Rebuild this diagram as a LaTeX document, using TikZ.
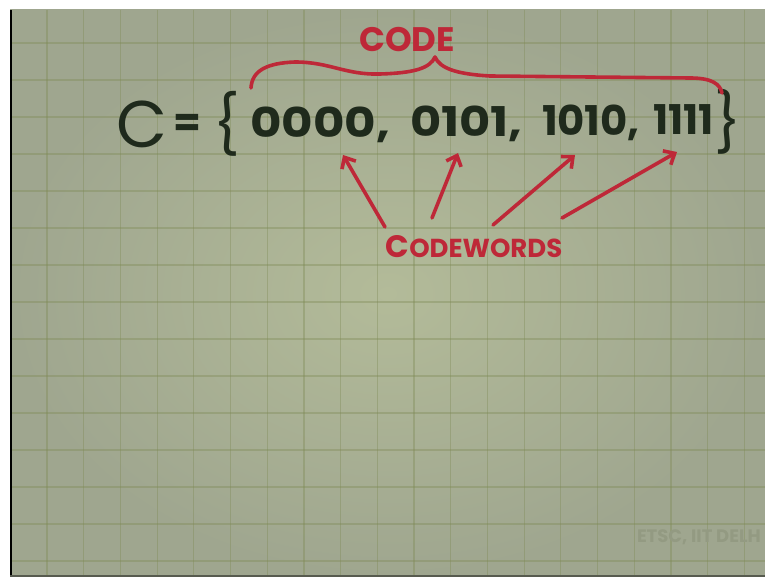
\documentclass[tikz,border=0pt]{standalone}
\usepackage{fontspec}
\setmainfont{Poppins}
\usetikzlibrary{arrows.meta}
\definecolor{pgpaperhi}{HTML}{B3BB99}
\definecolor{pgpaperlo}{HTML}{9FA68F}
\definecolor{pggrid}{HTML}{7E8A55}
\definecolor{pgink}{HTML}{1F2A1C}
\definecolor{pgred}{HTML}{BE2838}
\definecolor{pgmark}{HTML}{939A82}

\begin{document}
\begin{tikzpicture}[
  x=1pt, y=-1pt,
  every node/.style={inner sep=0pt, outer sep=0pt},
  ink/.style={text=pgink},
  word/.style={ink, anchor=base west, font=\fontsize{41}{41}\selectfont\bfseries},
  gridln/.style={draw=pggrid, line width=1.2pt, opacity=0.38},
  marker/.style={draw=pgred, line width=3.6pt, line cap=round, line join=round},
  pointer/.style={marker, -{Straight Barb[length=9pt,width=16pt]}},
  lbl/.style={text=pgred, font=\bfseries},
]
\useasboundingbox (0,0) rectangle (765,577);

% ---------- the sheet: white margin, shaded paper, squares ----------
\fill[white] (0,0) rectangle (765,577);
\shade[inner color=pgpaperhi, outer color=pgpaperlo] (10,10) rectangle (765,577);
\foreach \k in {0,...,19}{
  \draw[gridln] (47+36.7*\k,10) -- (47+36.7*\k,577);
}
\foreach \k in {0,...,14}{
  \draw[gridln] (10,43+37*\k) -- (765,43+37*\k);
}
\draw[black, line width=1.6pt] (10.8,10) -- (10.8,577);
\draw[pgpaperlo!55!black, line width=2pt] (10,576) -- (765,576);

% ---------- the set ----------
\node[ink, anchor=base, font=\fontsize{66}{66}\selectfont] (cname) at (142,148) {C};
\node[ink, font=\bfseries\fontsize{40}{40}\selectfont] (eq) at (187,125) {=};
\node[ink, font=\fontsize{58}{58}\selectfont] (lbr) at (227,124) {\{};
% the ones are narrow strokes in the original, so each word gets its own width
\node[word, xscale=1.18] (w1) at (250,138) {0000,};
\node[word, xscale=1.17] (w2) at (410,137) {0101,};
\node[word, xscale=1.02] (w3) at (542,136) {1010,};
\node[word, xscale=0.98] (w4) at (653,135) {1111};
\node[ink, font=\fontsize{58}{58}\selectfont] (rbr) at (728,122) {\}};

% ---------- code: label and brace over the words ----------
\node[lbl, anchor=base, font=\bfseries\fontsize{34}{34}\selectfont] (code) at (407,52) {CODE};
\draw[marker] (251,88) .. controls (252,70) and (268,63) .. (295,62)
  .. controls (330,62) and (345,75) .. (380,74)
  .. controls (415,73) and (430,68) .. (435,57)
  .. controls (440,68) and (455,74) .. (490,76)
  -- (690,78)
  .. controls (712,78) and (720,84) .. (722,93);

% ---------- codewords: label and pointers ----------
\node[lbl, anchor=base] (cw) at (474,258)
  {{\fontsize{31}{31}\selectfont C}{\fontsize{26}{26}\selectfont ODEWORDS}};
\coordinate (s1) at (385,227); \coordinate (t1) at (343,155);
\coordinate (s2) at (432,218); \coordinate (t2) at (458,153);
\coordinate (s3) at (493,225); \coordinate (t3) at (575,155);
\coordinate (s4) at (562,218); \coordinate (t4) at (677,152);
\foreach \i in {1,...,4}{
  \draw[pointer] (s\i) -- (t\i);
}

% ---------- watermark ----------
\begin{scope}
  \clip (10,10) rectangle (765,577);
  \node[anchor=base west, text=pgmark, font=\bfseries\fontsize{18}{18}\selectfont] (mark) at (637,542) {ETSC, IIT DELH};
\end{scope}

\end{tikzpicture}
\end{document}
